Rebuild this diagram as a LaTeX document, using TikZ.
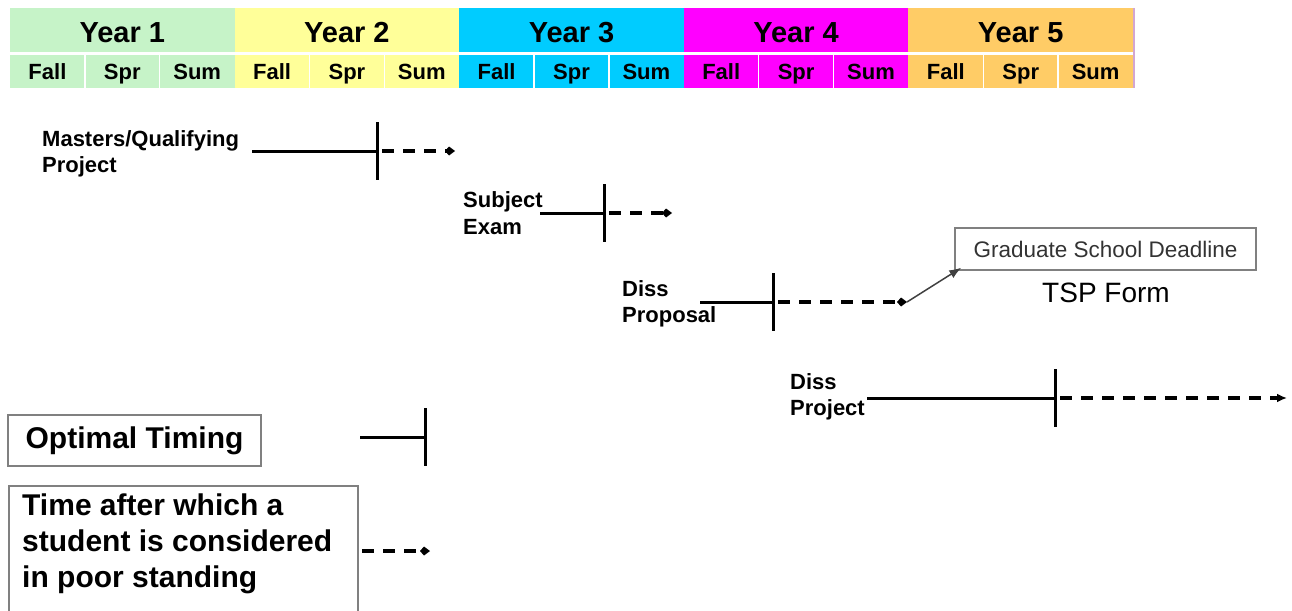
\documentclass[tikz,border=0pt]{standalone}
\usepackage{fontspec}
\setmainfont{Liberation Sans}
\usetikzlibrary{arrows.meta,positioning}
\definecolor{yrA}{RGB}{198,243,200}
\definecolor{yrB}{RGB}{255,255,153}
\definecolor{yrC}{RGB}{0,204,255}
\definecolor{yrD}{RGB}{255,0,255}
\definecolor{yrE}{RGB}{255,204,102}
\definecolor{boxgray}{RGB}{128,128,128}
\tikzset{
  yearlbl/.style={font=\fontsize{29}{34}\selectfont\bfseries, anchor=base, inner sep=0},
  semlbl/.style={font=\fontsize{22}{26}\selectfont\bfseries, anchor=base, inner sep=0},
  steplbl/.style={font=\fontsize{22}{26.5}\selectfont\bfseries, align=left, anchor=west, inner sep=0},
  plan/.style={line width=3pt},
  tickline/.style={line width=3pt},
  late/.style={line width=3.2pt, dash pattern=on 12pt off 9pt, dash phase=16pt},
  dot/.style={-{Kite[length=10pt,width=9pt,inset=4pt]}},
  legendbox/.style={draw=boxgray, line width=1.5pt, inner sep=0},
  legendtxt/.style={font=\fontsize{30}{36}\selectfont\bfseries, align=left, inner sep=0}
}
\begin{document}
\begin{tikzpicture}[x=1pt,y=-1pt]
  \clip (0,0) rectangle (1292,610);
  % header: years and semesters
  \foreach \c [count=\n] in {yrA,yrB,yrC,yrD,yrE} {
    \pgfmathsetmacro\xl{10+224.6*(\n-1)}
    \fill[\c] (\xl,8) rectangle ++(224.6,44);
    \fill[\c] (\xl,55) rectangle ++(224.6,33);
    \node[yearlbl] (year\n) at (\xl+112.3,43) {Year \n};
    \foreach \s [count=\k] in {Fall,Spr,Sum}
      \node[semlbl] (sem\n\k) at (\xl+74.87*\k-37.43,79) {\s};
    \draw[white, line width=1.5pt] (\xl+74.87,55) -- ++(0,33) (\xl+149.73,55) -- ++(0,33);
  }
  \draw[violet!35, line width=1.5pt] (1134,8) -- (1134,88);

  % milestones
  \node[steplbl] (mqlbl) at (42,154) {Masters/Qualifying\\Project};
  \node[steplbl] (selbl) at (463,213) {Subject\\Exam};
  \node[steplbl] (dplbl) at (622,304) {Diss\\Proposal};
  \node[steplbl] (djlbl) at (790,397) {Diss\\Project};
  \foreach \nm/\s/\t/\e/\y in {mq/252/377/455/151, se/540/604/672/213, dp/700/773/907/302, dj/867/1055/1287/398, opt/360/425/425/437} {
    \coordinate (\nm S) at (\s,\y);
    \coordinate (\nm) at (\t,\y);
    \coordinate (\nm E) at (\e,\y);
    \draw[plan] (\nm S) -- (\nm);
    \draw[tickline] ([yshift=29pt]\nm) -- ([yshift=-29pt]\nm);
  }
  \draw[late, dot] (mq) -- (mqE);
  \draw[late, dot] (se) -- (seE);
  \draw[late, dot] (dp) -- (dpE);
  \draw[late, -{Latex[length=10pt,width=9pt]}] (dj) -- (djE);

  % graduate school deadline
  \node[draw=boxgray, line width=1.5pt, minimum width=301, minimum height=42, inner sep=0,
        font=\fontsize{22.5}{26}\selectfont, text=black!80] (gsd) at (1105.5,249) {Graduate School Deadline};
  \node[font=\fontsize{28}{32}\selectfont, anchor=base, inner sep=0] (tsp) at (1106,302) {TSP Form};
  \draw[black!75, line width=1.5pt, -{Latex[length=12pt,width=9pt]}] (dpE) -- ([xshift=7pt,yshift=3pt]gsd.south west);

  % legend
  \node[legendbox, minimum width=253, minimum height=51, legendtxt] (optimal) at (134.5,440.5) {Optimal Timing};
  \node[legendbox, anchor=north west, minimum width=349, minimum height=150] (poorbox) at (8,485) {};
  \node[legendtxt, anchor=north west] (poor) at ([xshift=14pt,yshift=-9pt]poorbox.north west)
    {Time after which a\\student is considered\\in poor standing};
  \coordinate (poorS) at (362,551);
  \coordinate (poorE) at (430,551);
  \draw[late, dash phase=0pt, dot] (poorS) -- (poorE);
\end{tikzpicture}
\end{document}
